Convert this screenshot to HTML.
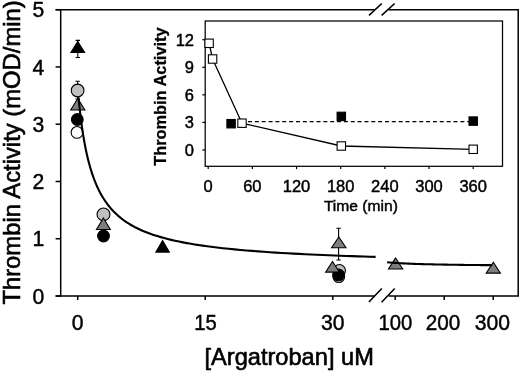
<!DOCTYPE html>
<html><head><meta charset="utf-8"><style>
html,body{margin:0;padding:0;background:#fff;}
body{width:520px;height:371px;overflow:hidden;}
svg{display:block;}
text{font-family:"Liberation Sans",Arial,sans-serif;fill:#000;stroke:#000;stroke-width:0.45px;}
</style></head><body>
<svg width="520" height="371" viewBox="0 0 520 371">
<rect width="520" height="371" fill="#fff"/>
<g stroke="#000" stroke-width="1.5" fill="none" stroke-linecap="butt">
<path d="M55.6,9.7H374.6M388.6,9.7H518.2V296.7M55.6,296H374.6M388.6,296H518.2"/>
<path d="M60.7,9V296.7"/>
<path d="M60.7,296.00h-5.1"/><path d="M60.7,238.74h-5.1"/><path d="M60.7,181.48h-5.1"/><path d="M60.7,124.22h-5.1"/><path d="M60.7,66.96h-5.1"/><path d="M60.7,9.70h-5.1"/>
<path d="M77.7,296v4"/><path d="M205.2,296v4"/><path d="M332.8,296v4"/><path d="M395.2,296v4"/><path d="M444.2,296v4"/><path d="M493.2,296v4"/>
<path d="M369,15.3L381.8,3.5M381.6,15.3L394.7,3.5M368.9,302L381.8,288.5M381.6,302.2L394.7,288.5" stroke-width="1.6"/>
</g>
<g font-size="22.5"><text x="44.3" y="303.70" text-anchor="end" textLength="11.76" lengthAdjust="spacingAndGlyphs">0</text><text x="44.3" y="246.44" text-anchor="end" textLength="11.76" lengthAdjust="spacingAndGlyphs">1</text><text x="44.3" y="189.18" text-anchor="end" textLength="11.76" lengthAdjust="spacingAndGlyphs">2</text><text x="44.3" y="131.92" text-anchor="end" textLength="11.76" lengthAdjust="spacingAndGlyphs">3</text><text x="44.3" y="74.66" text-anchor="end" textLength="11.76" lengthAdjust="spacingAndGlyphs">4</text><text x="44.3" y="17.40" text-anchor="end" textLength="11.76" lengthAdjust="spacingAndGlyphs">5</text><text x="77.6" y="330.3" text-anchor="middle" textLength="11.76" lengthAdjust="spacingAndGlyphs">0</text><text x="205.4" y="330.3" text-anchor="middle" textLength="22.52" lengthAdjust="spacingAndGlyphs">15</text><text x="332.8" y="330.3" text-anchor="middle" textLength="23.52" lengthAdjust="spacingAndGlyphs">30</text><text x="395.3" y="330.3" text-anchor="middle" textLength="33.78" lengthAdjust="spacingAndGlyphs">100</text><text x="442.9" y="330.3" text-anchor="middle" textLength="34.53" lengthAdjust="spacingAndGlyphs">200</text><text x="492.4" y="330.3" text-anchor="middle" textLength="35.28" lengthAdjust="spacingAndGlyphs">300</text></g>
<text font-size="23.2" x="204.5" y="364.5" style="stroke-width:0.6px" textLength="169.3" lengthAdjust="spacingAndGlyphs">[Argatroban] uM</text>
<text font-size="23.2" style="stroke-width:0.6px" transform="translate(20.0,304.6) rotate(-90)" textLength="304.3" lengthAdjust="spacingAndGlyphs">Thrombin Activity (mOD/min)</text>
<!-- inset -->
<rect x="205.2" y="21" width="297.3" height="145.3" fill="#fff" stroke="#000" stroke-width="1.25"/>
<g stroke="#000" stroke-width="1.2" fill="none"><path d="M208.20,166.3v2.8"/><path d="M252.37,166.3v2.8"/><path d="M296.53,166.3v2.8"/><path d="M340.70,166.3v2.8"/><path d="M384.87,166.3v2.8"/><path d="M429.03,166.3v2.8"/><path d="M473.20,166.3v2.8"/><path d="M205.2,150.00h-2.9"/><path d="M205.2,122.42h-2.9"/><path d="M205.2,94.85h-2.9"/><path d="M205.2,67.28h-2.9"/><path d="M205.2,39.70h-2.9"/></g>
<g font-size="16.5"><text x="208.20" y="191.6" text-anchor="middle">0</text><text x="252.37" y="191.6" text-anchor="middle">60</text><text x="296.53" y="191.6" text-anchor="middle">120</text><text x="340.70" y="191.6" text-anchor="middle">180</text><text x="384.87" y="191.6" text-anchor="middle">240</text><text x="429.03" y="191.6" text-anchor="middle">300</text><text x="473.20" y="191.6" text-anchor="middle">360</text><text x="194" y="155.80" text-anchor="end">0</text><text x="194" y="128.22" text-anchor="end">3</text><text x="194" y="100.65" text-anchor="end">6</text><text x="194" y="73.08" text-anchor="end">9</text><text x="194" y="45.50" text-anchor="end">12</text></g>
<text font-size="15.4" x="323.9" y="211.4" textLength="74" lengthAdjust="spacingAndGlyphs">Time (min)</text>
<text font-size="16.6" font-weight="bold" style="stroke-width:0.3px" transform="translate(165.8,165.8) rotate(-90)" textLength="138.4" lengthAdjust="spacingAndGlyphs">Thrombin Activity</text>
<line x1="241.15" y1="121.6" x2="473.20" y2="121.6" stroke="#000" stroke-width="1.25" stroke-dasharray="4 2.85"/>
<polyline points="209.1,43.3 212.6,59.0 242.0,123.2 341.3,146.0 473.2,149.3" fill="none" stroke="#000" stroke-width="1.3"/>
<rect x="226.90" y="119.50" width="8.40" height="8.40" fill="#000" stroke="#000" stroke-width="1.1"/>
<rect x="337.10" y="112.20" width="8.40" height="8.40" fill="#000" stroke="#000" stroke-width="1.1"/>
<rect x="469.00" y="116.90" width="8.40" height="8.40" fill="#000" stroke="#000" stroke-width="1.1"/>
<rect x="204.90" y="39.10" width="8.40" height="8.40" fill="#fff" stroke="#000" stroke-width="1.1"/>
<rect x="208.40" y="54.80" width="8.40" height="8.40" fill="#fff" stroke="#000" stroke-width="1.1"/>
<rect x="237.80" y="119.00" width="8.40" height="8.40" fill="#fff" stroke="#000" stroke-width="1.1"/>
<rect x="337.10" y="141.80" width="8.40" height="8.40" fill="#fff" stroke="#000" stroke-width="1.1"/>
<rect x="469.00" y="145.10" width="8.40" height="8.40" fill="#fff" stroke="#000" stroke-width="1.1"/>
<!-- main data -->
<path d="M77.8,40.4V57.5M75.6,40.4h4.4M75.6,57.5h4.4" stroke="#000" stroke-width="1.1" fill="none"/>
<path d="M77.6,81.3V99M75.39999999999999,81.3h4.4M75.39999999999999,99h4.4" stroke="#000" stroke-width="1.1" fill="none"/>
<path d="M338.6,228.2V260.0M336.40000000000003,228.2h4.4M336.40000000000003,260.0h4.4" stroke="#000" stroke-width="1.1" fill="none"/>
<circle cx="77.6" cy="90.5" r="6.35" fill="#bfbfbf" stroke="#000" stroke-width="1.1"/>
<circle cx="103.5" cy="214.4" r="6.45" fill="#bfbfbf" stroke="#000" stroke-width="1.1"/>
<circle cx="339.4" cy="270.6" r="6.05" fill="#bfbfbf" stroke="#000" stroke-width="1.1"/>
<circle cx="77.0" cy="132.4" r="5.85" fill="#fff" stroke="#000" stroke-width="1.1"/>
<circle cx="338.8" cy="276.6" r="5.85" fill="#fff" stroke="#000" stroke-width="1.1"/>
<circle cx="77.3" cy="119.5" r="5.85" fill="#000" stroke="#000" stroke-width="1.1"/>
<circle cx="103.5" cy="236.0" r="5.85" fill="#000" stroke="#000" stroke-width="1.1"/>
<circle cx="338.6" cy="275.0" r="5.85" fill="#000" stroke="#000" stroke-width="1.1"/>
<polygon points="77.75,41.60 70.85,52.50 84.65,52.50" fill="#000" stroke="#000" stroke-width="1.1" stroke-linejoin="miter"/>
<polygon points="77.80,98.50 70.70,110.00 84.90,110.00" fill="#7e7e7e" stroke="#000" stroke-width="1.1" stroke-linejoin="miter"/>
<polygon points="103.40,218.00 96.45,229.50 110.35,229.50" fill="#7e7e7e" stroke="#000" stroke-width="1.1" stroke-linejoin="miter"/>
<polygon points="162.60,240.60 155.85,252.10 169.35,252.10" fill="#000" stroke="#000" stroke-width="1.1" stroke-linejoin="miter"/>
<polygon points="338.80,237.00 331.60,247.70 346.00,247.70" fill="#7e7e7e" stroke="#000" stroke-width="1.1" stroke-linejoin="miter"/>
<polygon points="332.50,261.50 325.60,272.10 339.40,272.10" fill="#7e7e7e" stroke="#000" stroke-width="1.1" stroke-linejoin="miter"/>
<polygon points="395.60,257.90 388.50,269.00 402.70,269.00" fill="#7e7e7e" stroke="#000" stroke-width="1.1" stroke-linejoin="miter"/>
<polygon points="493.30,262.20 486.20,273.10 500.40,273.10" fill="#7e7e7e" stroke="#000" stroke-width="1.1" stroke-linejoin="miter"/>
<polyline points="78.51,97.27 78.93,101.62 79.34,105.72 79.76,109.60 80.18,113.28 80.60,116.77 81.02,120.10 81.44,123.28 81.86,126.31 82.27,129.20 82.69,131.98 83.11,134.64 83.53,137.19 83.95,139.64 84.37,141.99 84.79,144.26 85.20,146.44 85.62,148.54 86.04,150.57 86.46,152.53 86.88,154.42 87.30,156.24 87.71,158.01 88.13,159.72 88.55,161.37 88.97,162.97 89.39,164.52 89.81,166.03 90.23,167.49 90.64,168.90 91.06,170.28 91.48,171.62 91.90,172.91 92.32,174.18 92.74,175.41 93.16,176.60 93.57,177.76 93.99,178.90 94.41,180.00 94.83,181.08 95.25,182.13 95.67,183.15 96.09,184.15 96.50,185.12 96.92,186.07 97.34,187.00 97.76,187.90 98.18,188.79 98.60,189.65 99.01,190.50 99.43,191.33 99.85,192.13 100.27,192.92 100.69,193.70 101.11,194.46 101.53,195.20 101.94,195.92 102.36,196.63 102.78,197.33 103.20,198.01 103.20,198.01 105.82,201.99 108.43,205.52 111.05,208.67 113.66,211.51 116.28,214.08 118.89,216.42 121.51,218.55 124.12,220.51 126.74,222.31 129.35,223.97 131.97,225.51 134.58,226.94 137.20,228.27 139.82,229.52 142.43,230.68 145.05,231.78 147.66,232.80 150.28,233.77 152.89,234.68 155.51,235.54 158.12,236.36 160.74,237.13 163.35,237.86 165.97,238.56 168.58,239.22 171.20,239.86 173.82,240.46 176.43,241.04 179.05,241.59 181.66,242.11 184.28,242.62 186.89,243.10 189.51,243.57 192.12,244.01 194.74,244.44 197.35,244.85 199.97,245.25 202.58,245.63 205.20,246.00 205.20,246.00 211.08,246.78 216.95,247.51 222.83,248.18 228.70,248.80 234.58,249.39 240.46,249.93 246.33,250.44 252.21,250.92 258.08,251.38 263.96,251.80 269.83,252.20 275.71,252.58 281.59,252.94 287.46,253.29 293.34,253.61 299.21,253.92 305.09,254.21 310.97,254.49 316.84,254.76 322.72,255.02 328.59,255.26 334.47,255.50 340.34,255.72 346.22,255.94 352.10,256.14 357.97,256.34 363.85,256.53 369.72,256.72 375.60,256.89" fill="none" stroke="#000" stroke-width="2.1" stroke-linejoin="round"/>
<polyline points="387.10,262.21 389.80,262.46 392.49,262.68 395.19,262.88 397.89,263.06 400.59,263.22 403.28,263.37 405.98,263.50 408.68,263.62 411.38,263.73 414.07,263.84 416.77,263.93 419.47,264.02 422.17,264.10 424.86,264.18 427.56,264.25 430.26,264.32 432.96,264.38 435.65,264.44 438.35,264.50 441.05,264.55 443.75,264.60 446.44,264.65 449.14,264.70 451.84,264.74 454.54,264.78 457.23,264.82 459.93,264.86 462.63,264.89 465.33,264.93 468.02,264.96 470.72,264.99 473.42,265.02 476.12,265.05 478.81,265.07 481.51,265.10 484.21,265.13 486.91,265.15 489.60,265.17 492.30,265.20" fill="none" stroke="#000" stroke-width="2.1" stroke-linejoin="round"/>
</svg>
</body></html>
